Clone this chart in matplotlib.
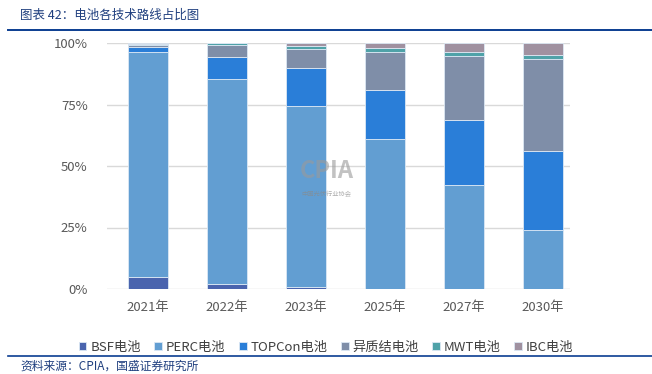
import numpy as np
import matplotlib.pyplot as plt

plt.rcParams['font.family'] = ['Noto Sans CJK SC', 'DejaVu Sans']

# 数据（%）
years = ['2021年', '2022年', '2023年', '2025年', '2027年', '2030年']
bsf = [5.0, 2.0, 0.8, 0.0, 0.0, 0.0]
perc = [91.3, 83.4, 73.7, 61.0, 42.3, 24.0]
topcon = [2.2, 9.0, 15.3, 19.9, 26.4, 32.1]
hjt = [0.7, 4.6, 7.8, 15.6, 26.0, 37.3]
mwt = [0.5, 0.9, 1.3, 1.6, 1.5, 1.7]
ibc = [0.3, 0.1, 1.1, 1.9, 3.8, 4.9]

names = ['BSF电池', 'PERC电池', 'TOPCon电池', '异质结电池', 'MWT电池', 'IBC电池']
colors = ['#4a64ae', '#629ed2', '#2a7ed8', '#7f8ea8', '#4fa2a8', '#a091a0']
series = [bsf, perc, topcon, hjt, mwt, ibc]

fig = plt.figure(figsize=(6.52, 3.74), dpi=100)
ax = fig.add_axes([107 / 652, 1 - 289 / 374, 463 / 652, 246 / 374])

x = np.arange(len(years))
bottom = np.zeros(len(years))
for vals, name, c in zip(series, names, colors):
    vals = np.array(vals) / 100
    ax.bar(x, vals, 0.5, bottom=bottom, color=c, label=name,
           edgecolor='#dce8f4', linewidth=0.6, zorder=3)
    bottom += vals

ax.set_xlim(-0.52, 5.34)
ax.set_ylim(0, 1)
ax.set_yticks([0, 0.25, 0.5, 0.75, 1.0])
ax.set_yticklabels(['0%', '25%', '50%', '75%', '100%'])
ax.set_xticks(x)
ax.set_xticklabels(years)
ax.tick_params(axis='both', length=0, labelsize=9.5, colors='#595959')
ax.tick_params(axis='y', pad=14)
ax.tick_params(axis='x', pad=9)
ax.grid(axis='y', color='#d9d9d9', linewidth=1, zorder=0)
for s in ax.spines.values():
    s.set_visible(False)

# 水印
ax.text(2.26, 0.48, 'CPIA', fontsize=17, fontweight='bold', color='#9a9a9a',
        alpha=0.6, ha='center', va='center', zorder=4)
ax.text(2.26, 0.385, '中国光伏行业协会', fontsize=4.5, color='#8a8a8a',
        alpha=0.7, ha='center', va='center', zorder=4)

ax.legend(loc='center', bbox_to_anchor=(326 / 652, 1 - 347 / 374),
          bbox_transform=fig.transFigure, ncol=6, frameon=False,
          fontsize=9.5, handlelength=0.6, handleheight=0.6,
          handletextpad=0.3, columnspacing=1.0, labelcolor='#404040')

# 标题与来源
fig.text(20 / 652, 1 - 15 / 374, '图表 42：电池各技术路线占比图', fontsize=9,
         color='#1f3f7f', style='italic', va='center')
fig.add_artist(plt.Line2D([8 / 652, 1], [1 - 30 / 374, 1 - 30 / 374],
                          color='#0b3d91', linewidth=1.4))
fig.add_artist(plt.Line2D([8 / 652, 1], [1 - 356 / 374, 1 - 356 / 374],
                          color='#0b3d91', linewidth=1.2))
fig.text(20 / 652, 1 - 366 / 374, '资料来源：CPIA，国盛证券研究所', fontsize=8.5,
         color='#1f3f7f', style='italic', va='center')

fig.savefig('out.png', dpi=100)
